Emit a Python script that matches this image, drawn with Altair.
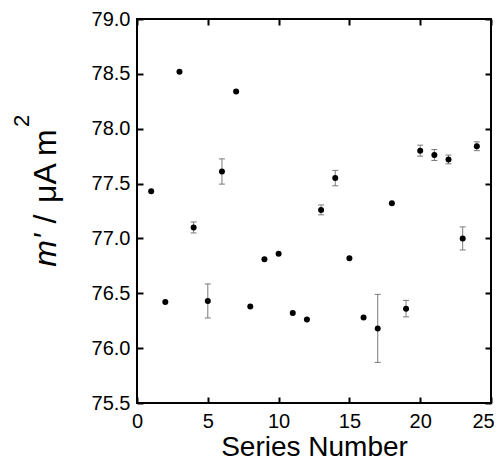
import altair as alt
import pandas as pd

series = list(range(1, 25))
values = [77.43, 76.42, 78.52, 77.10, 76.43, 77.61, 78.34, 76.38, 76.81, 76.86, 76.32, 76.26,
          77.26, 77.55, 76.82, 76.28, 76.18, 77.32, 76.36, 77.80, 77.76, 77.72, 77.00, 77.84]
errors = [0, 0, 0, 0.05, 0.155, 0.115, 0, 0, 0, 0, 0, 0,
          0.045, 0.07, 0, 0, 0.31, 0, 0.075, 0.05, 0.05, 0.04, 0.105, 0.04]

x_ticks = [0, 5, 10, 15, 20, 25]
y_ticks = [75.5, 76.0, 76.5, 77.0, 77.5, 78.0, 78.5, 79.0]

df = pd.DataFrame({"s": series, "v": values, "e": errors})
df["lo"] = df["v"] - df["e"]
df["hi"] = df["v"] + df["e"]
err = df[df["e"] > 0]

FONT = "Liberation Sans"
W, H = 354, 384

xscale = alt.Scale(domain=[0, 25], nice=False, zero=False)
yscale = alt.Scale(domain=[75.5, 79.0], nice=False, zero=False)

common_axis = dict(domain=False, grid=False, tickSize=6, tickWidth=2, tickColor="black",
                   offset=-6, labelFont=FONT, labelFontSize=20, labelColor="black",
                   labelFlush=False)

x_bottom = alt.Axis(orient="bottom", values=x_ticks, format="d", labelPadding=8,
                    labelOffset=alt.condition("datum.value == 25", alt.value(-8), alt.value(0)),
                    title="Series Number", titleFont=FONT, titleFontSize=28,
                    titleFontWeight="normal", titleColor="black", titlePadding=2,
                    **common_axis)
y_left = alt.Axis(orient="left", values=y_ticks, format=".1f", labelPadding=7,
                  title=None, **common_axis)
x_top = alt.Axis(orient="top", values=x_ticks, labels=False, title=None, **common_axis)
y_right = alt.Axis(orient="right", values=y_ticks, labels=False, title=None, **common_axis)

points = alt.Chart(df).mark_point(filled=True, color="black", size=36, opacity=1).encode(
    x=alt.X("s:Q", scale=xscale, axis=x_bottom),
    y=alt.Y("v:Q", scale=yscale, axis=y_left),
)

bars = alt.Chart(err).mark_rule(color="#7a7a7a", strokeWidth=1).encode(
    x=alt.X("s:Q", scale=xscale, axis=x_top),
    y=alt.Y("lo:Q", scale=yscale, axis=y_right),
    y2="hi:Q",
)

cap_lo = alt.Chart(err).mark_rule(color="#7a7a7a", strokeWidth=1, xOffset=-3, x2Offset=3).encode(
    x=alt.X("s:Q", scale=xscale, axis=None),
    x2="s:Q",
    y=alt.Y("lo:Q", scale=yscale, axis=None),
)
cap_hi = alt.Chart(err).mark_rule(color="#7a7a7a", strokeWidth=1, xOffset=-3, x2Offset=3).encode(
    x=alt.X("s:Q", scale=xscale, axis=None),
    x2="s:Q",
    y=alt.Y("hi:Q", scale=yscale, axis=None),
)

# y-axis title pieces: italic m', slash, "μA m", superscript 2
title_df = pd.DataFrame({"a": ["m'"], "b": ["/"], "c": ["\u03bcA m"], "d": ["2"]})
BASE_X = -81
t1 = alt.Chart(title_df).mark_text(angle=270, align="right", baseline="alphabetic",
                                   font=FONT, fontSize=32, fontStyle="italic", color="black").encode(
    text="a:N", x=alt.value(BASE_X), y=alt.value(215))
t2 = alt.Chart(title_df).mark_text(angle=270, align="center", baseline="alphabetic",
                                   font=FONT, fontSize=32, color="black").encode(
    text="b:N", x=alt.value(BASE_X), y=alt.value(200))
t3 = alt.Chart(title_df).mark_text(angle=270, align="left", baseline="alphabetic",
                                   font=FONT, fontSize=32, color="black").encode(
    text="c:N", x=alt.value(BASE_X), y=alt.value(184))
t4 = alt.Chart(title_df).mark_text(angle=270, align="left", baseline="alphabetic",
                                   font=FONT, fontSize=22, color="black").encode(
    text="d:N", x=alt.value(BASE_X - 27), y=alt.value(108))

chart = alt.layer(bars, cap_lo, cap_hi, points, t1, t2, t3, t4).resolve_axis(
    x="independent", y="independent"
).properties(
    width=W, height=H,
    autosize=alt.AutoSizeParams(type="none"),
    padding={"left": 129, "top": 11, "right": 3, "bottom": 54},
    background="white",
).configure_view(stroke="black", strokeWidth=2)

chart.save("out.html", embed_options={"renderer": "svg", "actions": False})
